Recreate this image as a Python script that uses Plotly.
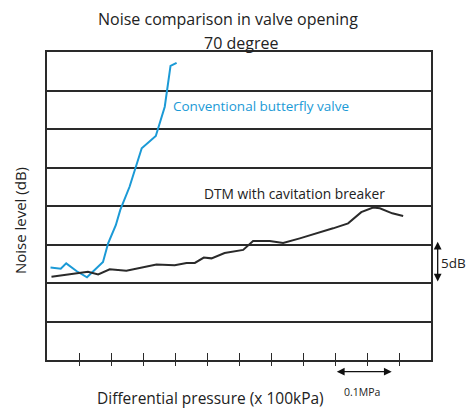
import plotly.graph_objects as go

# Blue: conventional butterfly valve
conv_x = [0.11, 0.43, 0.6, 0.92, 1.25, 1.75, 1.91, 2.15, 2.29, 2.58, 2.96, 3.40, 3.68, 3.86, 4.05]
conv_y = [12.0, 11.86, 12.55, 11.56, 10.74, 12.73, 15.15, 17.5, 19.5, 22.5, 27.5, 29.1, 32.9, 38.2, 38.6]

# Black: DTM with cavitation breaker
dtm_x = [0.14, 1.28, 1.6, 1.96, 2.48, 3.42, 3.99, 4.36, 4.62, 4.9, 5.14, 5.55, 6.13, 6.44, 6.96,
         7.38, 7.9, 8.42, 8.94, 9.41, 9.82, 10.19, 10.4, 10.79, 11.13]
dtm_y = [10.8, 11.47, 11.1, 11.78, 11.6, 12.4, 12.3, 12.6, 12.6, 13.3, 13.2, 13.9, 14.3, 15.45, 15.45,
         15.2, 15.8, 16.4, 17.1, 17.75, 19.2, 19.8, 19.7, 19.05, 18.7]

tick_vals = list(range(1, 12))

FONT = "Open Sans"
BLUE = "#1b9ad6"
DARK = "#2a2a2a"

fig = go.Figure()
fig.add_trace(go.Scatter(x=conv_x, y=conv_y, mode="lines",
                         line=dict(color=BLUE, width=2), showlegend=False))
fig.add_trace(go.Scatter(x=dtm_x, y=dtm_y, mode="lines",
                         line=dict(color=DARK, width=2), showlegend=False))
# invisible trace to host the secondary x-axis (outside tick half)
fig.add_trace(go.Scatter(x=[0, 12], y=[0, 0], xaxis="x2", mode="lines",
                         line=dict(width=0), hoverinfo="skip", showlegend=False))

fig.update_layout(
    width=470, height=409,
    margin=dict(l=47, r=39, t=52, b=49),
    paper_bgcolor="white", plot_bgcolor="white",
    font=dict(family=FONT, color="#222"),
    xaxis=dict(range=[0, 12], tickvals=tick_vals, ticks="inside", ticklen=7,
               tickcolor=DARK, tickwidth=1, showticklabels=False, showgrid=False,
               zeroline=False, showline=True, linecolor=DARK, linewidth=1.5, mirror=True),
    xaxis2=dict(range=[0, 12], tickvals=tick_vals, ticks="outside", ticklen=5,
                tickcolor=DARK, tickwidth=1, showticklabels=False, showgrid=False,
                zeroline=False, showline=False, overlaying="x", anchor="y", side="bottom"),
    yaxis=dict(range=[0, 40], dtick=5, showticklabels=False, ticks="",
               showgrid=True, gridcolor=DARK, gridwidth=1.5, zeroline=False,
               showline=True, linecolor=DARK, linewidth=1.5, mirror=True),
)

# in-plot labels (data coords)
fig.add_annotation(xref="x", yref="y", x=6.68, y=33.0, text="Conventional butterfly valve",
                   showarrow=False, font=dict(size=13.5, color=BLUE))
fig.add_annotation(xref="x", yref="y", x=7.72, y=21.56, text="DTM with cavitation breaker",
                   showarrow=False, font=dict(size=13.8))

# title lines (stacked without overlapping boxes)
fig.add_annotation(xref="paper", yref="paper", x=0.4714, y=1.0698, yanchor="bottom",
                   text="Noise comparison in valve opening", showarrow=False,
                   borderpad=0, font=dict(size=16))
fig.add_annotation(xref="paper", yref="paper", x=0.5047, y=1.0698, yanchor="top",
                   text="70 degree", showarrow=False, borderpad=0, font=dict(size=16))

# outside labels (paper coords; plot box spans 47..431 x 52..360 px)
outside = [
    dict(x=0.4245, y=-0.1234, text="Differential pressure (x 100kPa)", font=dict(size=15.5),
         borderpad=0),
    dict(x=-0.0703, y=0.451, text="Noise level (dB)", font=dict(size=15), textangle=-90),
    dict(x=0.8195, y=-0.1039, text="0.1MPa", font=dict(size=10.5)),
    dict(x=1.022, y=0.315, text="5dB", font=dict(size=13.5), xanchor="left"),
]
for a in outside:
    a.setdefault("xanchor", "center")
    fig.add_annotation(xref="paper", yref="paper", showarrow=False, yanchor="middle", **a)

# double-headed arrows
fig.add_annotation(xref="paper", yref="paper", x=0.8977, y=-0.038, ax=-56.4, ay=0,
                   text="", showarrow=True, arrowhead=2, arrowside="end+start",
                   arrowsize=1.2, arrowwidth=1.3, arrowcolor="#111")
fig.add_annotation(xref="paper", yref="paper", x=1.0174, y=0.384, ax=0, ay=41.3,
                   text="", showarrow=True, arrowhead=2, arrowside="end+start",
                   arrowsize=1.2, arrowwidth=1.3, arrowcolor="#111")

fig.write_html("out.html", config={"displayModeBar": False},
               post_script="document.body.style.margin='0';document.body.style.overflow='hidden';")
